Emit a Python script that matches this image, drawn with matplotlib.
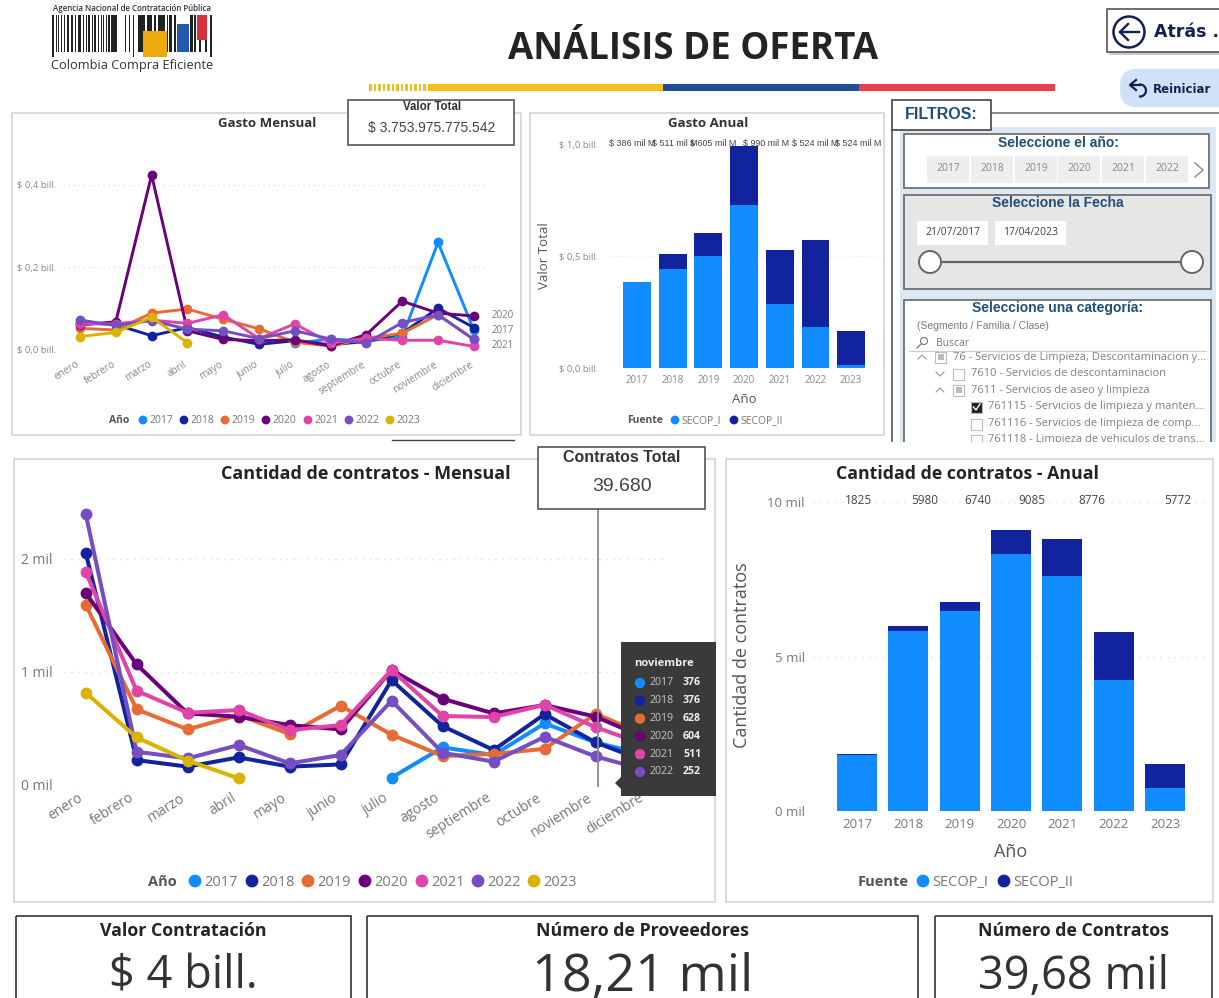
# plot.py - Colombia Compra Eficiente, dashboard "Análisis de oferta"
import numpy as np
import matplotlib
matplotlib.use('Agg')
import matplotlib.pyplot as plt
from matplotlib.patches import Rectangle, Circle, FancyBboxPatch, Polygon
from matplotlib.transforms import ScaledTranslation

W, H = 1219, 998
nan = float('nan')

plt.rcParams['font.family'] = ['Open Sans', 'DejaVu Sans']
plt.rcParams['axes.unicode_minus'] = False

# ── Data ───────────────────────────────────────────────────────────────────────
meses = ['enero', 'febrero', 'marzo', 'abril', 'mayo', 'junio', 'julio', 'agosto',
         'septiembre', 'octubre', 'noviembre', 'diciembre']
anios = ['2017', '2018', '2019', '2020', '2021', '2022', '2023']
colores = ['#118DFF', '#12239E', '#E66C37', '#6B007B', '#E044A7', '#744EC2', '#D9B300']

# Gasto mensual, billones de pesos
gasto_2017 = [nan, nan, nan, nan, nan, nan, 0.015, 0.025, 0.020, 0.030, 0.260, 0.047]
gasto_2018 = [0.065, 0.060, 0.033, 0.053, 0.030, 0.012, 0.021, 0.011, 0.019, 0.039, 0.100, 0.053]
gasto_2019 = [0.051, 0.047, 0.088, 0.098, 0.073, 0.050, 0.017, 0.008, 0.027, 0.039, 0.084, 0.024]
gasto_2020 = [0.059, 0.067, 0.424, 0.045, 0.024, 0.021, 0.023, 0.008, 0.036, 0.117, 0.088, 0.081]
gasto_2021 = [0.062, 0.062, 0.071, 0.063, 0.084, 0.026, 0.062, 0.015, 0.027, 0.022, 0.022, 0.007]
gasto_2022 = [0.071, 0.058, 0.070, 0.049, 0.045, 0.026, 0.045, 0.025, 0.015, 0.065, 0.084, 0.024]
gasto_2023 = [0.031, 0.041, 0.078, 0.016, nan, nan, nan, nan, nan, nan, nan, nan]

# Gasto anual por fuente, billones de pesos
anual_secop1 = [0.384, 0.445, 0.503, 0.728, 0.289, 0.183, 0.015]
anual_secop2 = [0.002, 0.067, 0.103, 0.265, 0.237, 0.390, 0.150]
anual_etiquetas = ['$ 386 mil M', '$ 511 mil M', '$ 605 mil M', '$ 990 mil M', '$ 524 mil M', '$ 524 mil M']
anual_etiq_x = [609, 652, 690, 743, 792, 835]

# Cantidad de contratos mensual, miles
cant_2017 = [nan, nan, nan, nan, nan, nan, 0.065, 0.332, 0.265, 0.544, 0.376, 0.265]
cant_2018 = [2.053, 0.220, 0.162, 0.244, 0.162, 0.182, 0.926, 0.520, 0.309, 0.626, 0.376, 0.206]
cant_2019 = [1.594, 0.668, 0.491, 0.618, 0.450, 0.700, 0.444, 0.256, 0.274, 0.320, 0.628, 0.440]
cant_2020 = [1.697, 1.065, 0.632, 0.603, 0.529, 0.491, 1.015, 0.762, 0.632, 0.706, 0.604, 0.410]
cant_2021 = [1.882, 0.832, 0.638, 0.662, 0.485, 0.529, 1.015, 0.609, 0.600, 0.709, 0.511, 0.350]
cant_2022 = [2.397, 0.294, 0.235, 0.353, 0.191, 0.265, 0.744, 0.285, 0.206, 0.426, 0.252, 0.130]
cant_2023 = [0.815, 0.420, 0.215, 0.059, nan, nan, nan, nan, nan, nan, nan, nan]

# Cantidad de contratos anual por fuente, miles
cant_secop1 = [1.81, 5.83, 6.47, 8.32, 7.60, 4.24, 0.74]
cant_secop2 = [0.02, 0.15, 0.29, 0.77, 1.20, 1.55, 0.78]
cant_etiquetas = ['1825', '5980', '6740', '9085', '8776', '5772']
cant_etiq_x = [858, 925, 978, 1032, 1092, 1178]

# Tooltip
tip_anios = ['2017', '2018', '2019', '2020', '2021', '2022']
tip_valores = ['376', '376', '628', '604', '511', '252']

# Filtros
filtro_anios = ['2017', '2018', '2019', '2020', '2021', '2022']
filtro_x = [927, 971, 1015, 1058, 1102, 1146]
categorias = [(953, 357, '76 - Servicios de Limpieza, Descontaminacion y...'),
              (971, 373, '7610 - Servicios de descontaminacion'),
              (971, 390, '7611 - Servicios de aseo y limpieza'),
              (988, 406, '761115 - Servicios de limpieza y manten...'),
              (988, 423, '761116 - Servicios de limpieza de comp...'),
              (988, 439, '761118 - Limpieza de vehiculos de trans...')]

# Logo: barras del código (x, ancho)
logo_barras = [(52, 2), (56, 1), (58, 1), (61, 1), (64, 1), (67, 2), (71, 2), (75, 1), (78, 3), (83, 1),
               (86, 1), (88, 2), (92, 1), (94, 2), (98, 1), (101, 1), (103, 1), (106, 1), (108, 2), (111, 6),
               (125, 1), (129, 1), (133, 1), (138, 7), (147, 5), (154, 2), (158, 7), (167, 1), (169, 3),
               (174, 2), (190, 3), (194, 2), (199, 2), (205, 2), (210, 2)]

# ── Figure, pixel overlays ─────────────────────────────────────────────────────
fig = plt.figure(figsize=(W / 100, H / 100), dpi=100, facecolor='white')

def capa(z):
    a = fig.add_axes([0, 0, 1, 1], zorder=z)
    a.set_xlim(0, W)
    a.set_ylim(H, 0)
    a.axis('off')
    a.patch.set_alpha(0)
    return a

bg = capa(0)
top = capa(5)

def T(a, x, y, s, size=8, color='#444444', weight='normal', ha='left', va='center', family=None, **kw):
    if family is not None:
        kw['family'] = family
    elif 'rotation' not in kw:
        y = y + size * 0.12   # Open Sans sits a little high with va=center
    return a.text(x, y, s, fontsize=size, color=color, fontweight=weight, ha=ha, va=va, **kw)

def R(a, x0, y0, x1, y1, fc='none', ec='none', lw=1, z=1):
    a.add_patch(Rectangle((x0, y0), x1 - x0, y1 - y0, fc=fc, ec=ec, lw=lw, zorder=z))

def eje(x0, x1, ybase, ytop, xlim, ylim):
    ax = fig.add_axes([x0 / W, 1 - ybase / H, (x1 - x0) / W, (ybase - ytop) / H], zorder=2)
    ax.patch.set_alpha(0)
    ax.set_xlim(*xlim)
    ax.set_ylim(*ylim)
    for s in ax.spines.values():
        s.set_visible(False)
    ax.tick_params(length=0)
    return ax

def correr_etiquetas(ax, px):
    for lbl in ax.get_xticklabels():
        lbl.set_transform(lbl.get_transform() + ScaledTranslation(px / 100, 0, fig.dpi_scale_trans))

def leyenda(titulo, tx, etiquetas, cols, xs, y, size, r, dx):
    T(bg, tx, y, titulo, size=size, color='#555555', weight='bold')
    for lab, c, x in zip(etiquetas, cols, xs):
        bg.add_patch(Circle((x, y), r, fc=c, ec='none'))
        T(bg, x + dx, y, lab, size=size, color='#777777')

# ── Panels ─────────────────────────────────────────────────────────────────────
borde = '#D4D4D4'
R(bg, 12, 113, 521, 435, ec=borde, lw=1.2)
R(bg, 530, 113, 884, 435, ec=borde, lw=1.2)
R(bg, 14, 459, 715, 902, ec=borde, lw=1.2)
R(bg, 726, 459, 1213, 902, ec=borde, lw=1.2)

T(bg, 267, 122, 'Gasto Mensual', size=9.5, color='#333333', weight='bold', ha='center')
T(bg, 708, 122, 'Gasto Anual', size=9.5, color='#333333', weight='bold', ha='center')
T(bg, 366, 472, 'Cantidad de contratos - Mensual', size=13, color='#252423', weight='bold', ha='center')
T(bg, 968, 472, 'Cantidad de contratos - Anual', size=12.8, color='#252423', weight='bold', ha='center')

# ── Gasto mensual ──────────────────────────────────────────────────────────────
ax1 = eje(63, 486, 349.3, 164.3, (-0.475, 11.34), (0, 0.45))
x = np.arange(12)
for serie, c in zip([gasto_2017, gasto_2018, gasto_2019, gasto_2020, gasto_2021, gasto_2022, gasto_2023], colores):
    ax1.plot(x, serie, color=c, lw=2.1, marker='o', ms=6, clip_on=False, solid_joinstyle='round')
ax1.set_yticks([0, 0.2, 0.4])
ax1.set_yticklabels(['$ 0,0 bill.', '$ 0,2 bill.', '$ 0,4 bill.'], fontsize=6.8, color='#888888')
ax1.yaxis.grid(True, color='#DDDDDD', ls=(0, (1, 3)), lw=0.9)
ax1.set_axisbelow(True)
ax1.set_xticks(x)
ax1.set_xticklabels(meses, rotation=32, ha='right', rotation_mode='anchor', fontsize=7.2, color='#888888')
ax1.tick_params(axis='x', pad=7)
ax1.tick_params(axis='y', pad=5)
correr_etiquetas(ax1, -4)
for lab, yy in zip(['2020', '2017', '2021'], [315, 330, 345]):
    T(bg, 492, yy, lab, size=7, color='#777777')
leyenda('Año', 109, anios, colores, [143, 184, 225, 266, 308, 349, 390], 420, 7.5, 4.4, 6)

# ── Gasto anual ────────────────────────────────────────────────────────────────
ax2 = eje(608, 884, 368.3, 144.3, (-0.81, 6.92), (0, 1.0))
xa = np.arange(7)
ax2.bar(xa, anual_secop1, width=0.78, color=colores[0])
ax2.bar(xa, anual_secop2, width=0.78, bottom=anual_secop1, color=colores[1])
ax2.set_yticks([0, 0.5, 1.0])
ax2.set_yticklabels(['$ 0,0 bill.', '$ 0,5 bill.', '$ 1,0 bill.'], fontsize=6.8, color='#888888')
ax2.yaxis.grid(True, color='#E4E4E4', ls=(0, (1, 3)), lw=0.8)
ax2.set_axisbelow(True)
ax2.set_xticks(xa)
ax2.set_xticklabels(anios, fontsize=7, color='#888888')
ax2.tick_params(axis='x', pad=5)
ax2.tick_params(axis='y', pad=7)
for lab, xx in zip(anual_etiquetas, anual_etiq_x):
    T(top, xx, 143, lab, size=6.4, color='#444444', family='Liberation Sans')
T(bg, 544, 256, 'Valor Total', size=9.5, color='#555555', ha='center', rotation=90)
T(bg, 744, 398, 'Año', size=9.5, color='#555555', ha='center')
leyenda('Fuente', 627, ['SECOP_I', 'SECOP_II'], [colores[0], colores[1]], [675, 734], 420, 7.5, 4.4, 6)

# ── Cantidad mensual ───────────────────────────────────────────────────────────
ax3 = eje(64, 668, 785, 502, (-0.425, 11.42), (0, 2.5))
for serie, c in zip([cant_2017, cant_2018, cant_2019, cant_2020, cant_2021, cant_2022, cant_2023], colores):
    ax3.plot(x, serie, color=c, lw=2.9, marker='o', ms=7.5, clip_on=False, solid_joinstyle='round')
ax3.set_yticks([0, 1, 2])
ax3.set_yticklabels(['0 mil', '1 mil', '2 mil'], fontsize=10, color='#777777')
ax3.yaxis.grid(True, color='#DDDDDD', ls=(0, (1, 4)), lw=1)
ax3.set_axisbelow(True)
ax3.set_xticks(x)
ax3.set_xticklabels(meses, rotation=32, ha='right', rotation_mode='anchor', fontsize=10, color='#777777')
ax3.tick_params(axis='x', pad=4)
ax3.tick_params(axis='y', pad=8)
correr_etiquetas(ax3, -8)
leyenda('Año', 148, anios, colores, [195, 252, 308, 365, 422, 478, 534], 881, 10.5, 6.4, 9)

# ── Cantidad anual ─────────────────────────────────────────────────────────────
ax4 = eje(813, 1205, 811, 502, (-0.86, 6.78), (0, 10))
ax4.bar(xa, cant_secop1, width=0.78, color=colores[0])
ax4.bar(xa, cant_secop2, width=0.78, bottom=cant_secop1, color=colores[1])
ax4.set_yticks([0, 5, 10])
ax4.set_yticklabels(['0 mil', '5 mil', '10 mil'], fontsize=9.5, color='#777777')
ax4.yaxis.grid(True, color='#DDDDDD', ls=(0, (1, 4)), lw=1)
ax4.set_axisbelow(True)
ax4.set_xticks(xa)
ax4.set_xticklabels(anios, fontsize=9.5, color='#777777')
ax4.tick_params(axis='x', pad=5)
ax4.tick_params(axis='y', pad=6)
for lab, xx in zip(cant_etiquetas, cant_etiq_x):
    T(top, xx, 499, lab, size=8.5, color='#444444', ha='center', bbox=dict(fc='white', ec='none', pad=1.5))
T(bg, 742, 655, 'Cantidad de contratos', size=13, color='#555555', ha='center', rotation=90)
T(bg, 1011, 850, 'Año', size=13, color='#555555', ha='center')
leyenda('Fuente', 858, ['SECOP_I', 'SECOP_II'], [colores[0], colores[1]], [923, 1004], 881, 10.5, 6.4, 9)

# ── Header ─────────────────────────────────────────────────────────────────────
T(bg, 693, 46, 'ANÁLISIS DE OFERTA', size=26.4, color='#252423', weight='bold', ha='center')
for xx in np.arange(369, 428, 4.5):
    R(bg, xx, 84, xx + 2.6, 91, fc='#F2BE22')
R(bg, 428, 84, 663, 91, fc='#F5BE1D')
R(bg, 663, 84, 859, 91, fc='#1F4E96')
R(bg, 859, 84, 1055, 91, fc='#E8404F')

# Logo
T(bg, 132, 8, 'Agencia Nacional de Contratación Pública', size=5.7, color='#333333', weight='semibold', ha='center')
for xx, ww in logo_barras:
    R(bg, xx, 15, xx + ww, 57 if xx in (52, 133, 210) else 52, fc='#222222')
R(bg, 143, 31, 167, 57, fc='#EDAA0C', z=2)
R(bg, 177, 24, 189, 52, fc='#2159AE', z=2)
R(bg, 197, 15, 207, 40, fc='#D6323C', z=2)
T(bg, 132, 64, 'Colombia Compra Eficiente', size=9.2, color='#333333', ha='center')

# Botones
navy = '#14204F'
R(bg, 1109, 12, 1222, 55, fc='#C9C9C9', z=1)
R(bg, 1107, 9, 1222, 52, fc='white', ec='#555555', lw=1.2, z=2)
bg.add_patch(Circle((1129, 32), 15.5, fc='white', ec=navy, lw=1.8, zorder=3))
bg.plot([1120, 1139], [32, 32], color=navy, lw=1.7, zorder=4)
bg.plot([1128, 1120, 1128], [24, 32, 40], color=navy, lw=1.7, zorder=4)
T(bg, 1154, 32, 'Atrás .', size=12.5, color=navy, weight='bold', family='DejaVu Sans')
bg.add_patch(FancyBboxPatch((1120, 69), 120, 38, boxstyle='round,pad=0,rounding_size=17',
                            mutation_scale=1, fc='#CFE2F8', ec='none', zorder=1))
bg.plot([1136, 1130, 1136], [80, 85, 90], color=navy, lw=1.6, zorder=3)
yy = np.linspace(-np.pi / 2, np.pi / 2, 20)
bg.plot(1140 + 6 * np.cos(yy), 91 + 6 * np.sin(yy) - 0.5, color=navy, lw=1.6, zorder=3)
bg.plot([1131, 1140], [85, 85], color=navy, lw=1.6, zorder=3)
T(bg, 1153, 89, 'Reiniciar', size=8.5, color=navy, weight='bold', family='DejaVu Sans')

# ── Filtros ────────────────────────────────────────────────────────────────────
azul_txt = '#1F4E79'
R(bg, 900, 127, 1216, 442, fc='#DCE8F3', z=1)
bg.plot([991, 1219], [113, 113], color='#777777', lw=1.2, zorder=2)
bg.plot([892, 892], [130, 442], color='#555555', lw=1.2, zorder=2)
R(bg, 892, 100, 991, 130, fc='white', ec='#444444', lw=1.2, z=3)
T(bg, 905, 114, 'FILTROS:', size=11.5, color=azul_txt, weight='bold', family='Liberation Sans', zorder=4)

R(bg, 904, 134, 1209, 188, fc='white', ec='#666666', lw=1.2, z=2)
T(bg, 1058, 143, 'Seleccione el año:', size=10, color=azul_txt, weight='bold', ha='center', family='Liberation Sans', zorder=4)
for lab, xx in zip(filtro_anios, filtro_x):
    R(bg, xx, 156, xx + 42, 183, fc='#EEEEEE', z=3)
    T(bg, xx + 21, 168, lab, size=7.5, color='#888888', ha='center', zorder=4)
bg.plot([1195, 1203, 1195], [163, 170, 177], color='#888888', lw=1, zorder=4)

R(bg, 904, 195, 1211, 289, fc='#E6E6E6', ec='#666666', lw=1.2, z=2)
T(bg, 1058, 203, 'Seleccione la Fecha', size=10, color=azul_txt, weight='bold', ha='center', family='Liberation Sans', zorder=4)
for x0, lab in zip([917, 995], ['21/07/2017', '17/04/2023']):
    R(bg, x0, 221, x0 + 71, 245, fc='white', z=3)
    T(bg, x0 + 35.5, 232, lab, size=7.5, color='#444444', ha='center', zorder=4)
bg.plot([930, 1192], [262, 262], color='#666666', lw=1.6, zorder=3)
for xx in [930, 1192]:
    bg.add_patch(Circle((xx, 262), 11, fc='white', ec='#666666', lw=1.4, zorder=4))

R(bg, 904, 300, 1211, 446, fc='white', ec='#666666', lw=1.2, z=2)
T(bg, 1058, 308, 'Seleccione una categoría:', size=10, color=azul_txt, weight='bold', ha='center', family='Liberation Sans', zorder=4)
T(bg, 917, 326, '(Segmento / Familia / Clase)', size=7.5, color='#777777', family='Liberation Sans', zorder=4)
bg.add_patch(Circle((924, 341), 3.5, fc='none', ec='#777777', lw=0.8, zorder=4))
bg.plot([921, 917], [344, 348], color='#777777', lw=0.9, zorder=4)
T(bg, 936, 343, 'Buscar', size=7.5, color='#777777', zorder=4)
bg.plot([909, 1206], [351, 351], color='#CCCCCC', lw=0.8, zorder=4)
for xx, yy, lab in categorias:
    T(bg, xx, yy, lab, size=8, color='#808080', zorder=4)
for xx, yy, fc in [(935, 357, '#FFFFFF'), (953, 374, '#FFFFFF'), (953, 390, '#FFFFFF'),
                   (971, 407, '#222222'), (971, 424, '#FFFFFF'), (971, 440, '#FFFFFF')]:
    R(bg, xx, yy - 5.5, xx + 11, yy + 5.5, fc=fc, ec='#BBBBBB', lw=0.8, z=4)
for xx, yy in [(940.5, 357), (958.5, 390)]:
    R(bg, xx - 3, yy - 3, xx + 3, yy + 3, fc='#BBBBBB', z=5)
bg.plot([973.5, 976, 980], [407, 410, 404], color='white', lw=1, zorder=5)
for xx, yy, d in [(918, 357, 1), (936, 374, -1), (936, 390, 1)]:
    bg.plot([xx, xx + 4, xx + 8], [yy + 2 * d, yy - 2 * d, yy + 2 * d], color='#999999', lw=0.8, zorder=4)
R(bg, 890, 442, 1219, 458, fc='white', z=6)
bg.plot([392, 514], [440, 440], color='#444444', lw=1, zorder=1)

# ── Cajas de totales ───────────────────────────────────────────────────────────
R(top, 348, 100, 514, 145, fc='white', ec='#555555', lw=1.2, z=3)
T(top, 432, 107, 'Valor Total', size=8.3, color='#333333', weight='bold', ha='center', family='Liberation Sans', zorder=4)
T(top, 432, 128, '$ 3.753.975.775.542', size=10, color='#444444', ha='center', family='Liberation Sans', zorder=4)
R(top, 538, 447, 705, 509, fc='white', ec='#555555', lw=1.2, z=3)
T(top, 622, 457, 'Contratos Total', size=11.5, color='#333333', weight='bold', ha='center', family='Liberation Sans', zorder=4)
T(top, 622, 486, '39.680', size=14, color='#444444', ha='center', family='Liberation Sans', zorder=4)

# Línea vertical y tooltip
top.plot([597.5, 597.5], [509, 786], color='#8A8A8A', lw=1.3, zorder=2)
top.add_patch(Polygon([[621, 777], [615, 783], [621, 789]], fc='#3A3A3A', ec='none', zorder=3))
R(top, 621, 642, 716, 796, fc='#3A3A3A', z=3)
T(top, 634, 663, 'noviembre', size=8, color='#EEEEEE', weight='bold', zorder=4)
for i, (a, v, c) in enumerate(zip(tip_anios, tip_valores, colores)):
    yy = 683 + i * 17.8
    top.add_patch(Circle((640, yy), 5.2, fc=c, ec='none', zorder=4))
    T(top, 650, yy - 1, a, size=7.6, color='#C8C8C8', zorder=4)
    T(top, 683, yy - 1, v, size=7.6, color='#F2F2F2', weight='bold', zorder=4)

# ── KPI ────────────────────────────────────────────────────────────────────────
for x0, x1, titulo, valor, tam in [(16, 351, 'Valor Contratación', '$ 4 bill.', 32.5),
                                   (367, 918, 'Número de Proveedores', '18,21 mil', 37.5),
                                   (935, 1212, 'Número de Contratos', '39,68 mil', 32.5)]:
    R(bg, x0, 916, x1, 1010, ec='#333333', lw=1.2)
    T(bg, (x0 + x1) / 2, 929, titulo, size=12.8, color='#252423', weight='bold', ha='center')
    T(bg, (x0 + x1) / 2, 973, valor, size=tam, color='#333333', ha='center')

fig.savefig('out.png', dpi=100)
